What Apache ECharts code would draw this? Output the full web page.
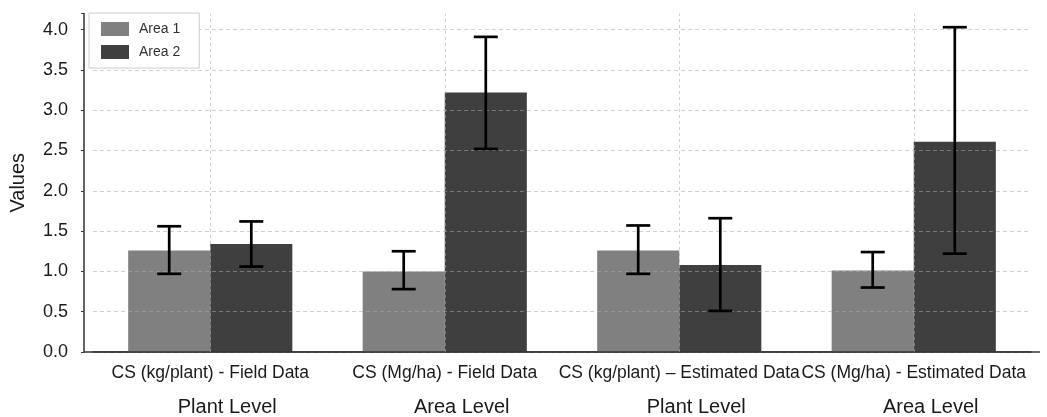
<!DOCTYPE html>
<html>
<head>
<meta charset="utf-8">
<script src="https://cdn.jsdelivr.net/npm/echarts@6/dist/echarts.min.js"></script>
<style>
html,body{margin:0;padding:0;background:#fff;}
#chart{width:1047px;height:417px;}
</style>
</head>
<body>
<div id="chart"></div>
<script>
const categories = ["CS (kg/plant) - Field Data", "CS (Mg/ha) - Field Data", "CS (kg/plant) \u2013 Estimated Data", "CS (Mg/ha) - Estimated Data"];
const levels = ["Plant Level", "Area Level", "Plant Level", "Area Level"];
const seriesNames = ["Area 1", "Area 2"];
const area1 = [1.26, 1.00, 1.26, 1.01];
const area2 = [1.34, 3.22, 1.08, 2.61];
const area1Low = [0.97, 0.78, 0.97, 0.80];
const area1High = [1.56, 1.25, 1.57, 1.24];
const area2Low = [1.06, 2.52, 0.51, 1.22];
const area2High = [1.62, 3.91, 1.66, 4.03];
const yTicks = [0, 0.5, 1.0, 1.5, 2.0, 2.5, 3.0, 3.5, 4.0];

const FONT = "Liberation Sans";
const colors = ["#808080", "#3f3f3f"];
const catGap = 0.30;
const gridColor = 'rgba(170,170,170,0.55)';

function errorSeries(idx, low, high) {
  return {
    type: 'custom',
    name: seriesNames[idx],
    z: 5,
    silent: true,
    data: low.map((l, i) => [i, l, high[i]]),
    renderItem: function (params, api) {
      const c = api.value(0);
      const lo = api.coord([c, api.value(1)]);
      const hi = api.coord([c, api.value(2)]);
      const band = api.size([1, 0])[0];
      const bw = band * (1 - catGap) / 2;
      const x = lo[0] + (idx === 0 ? -bw / 2 : bw / 2);
      const cap = 12;
      const style = { stroke: '#000', lineWidth: 2.7 };
      return {
        type: 'group',
        children: [
          { type: 'line', shape: { x1: x, y1: lo[1], x2: x, y2: hi[1] }, style: style },
          { type: 'line', shape: { x1: x - cap, y1: hi[1], x2: x + cap, y2: hi[1] }, style: style },
          { type: 'line', shape: { x1: x - cap, y1: lo[1], x2: x + cap, y2: lo[1] }, style: style }
        ]
      };
    }
  };
}

const chart = echarts.init(document.getElementById('chart'), null, { renderer: 'canvas' });
const option = {
  animation: false,
  backgroundColor: '#ffffff',
  textStyle: { fontFamily: FONT },
  grid: { left: 93, right: 16, top: 13.5, bottom: 65, containLabel: false },
  legend: {
    left: 89, top: 13,
    orient: 'vertical',
    data: seriesNames.map(n => ({ name: n, icon: 'rect' })),
    itemWidth: 28, itemHeight: 14, itemGap: 9,
    padding: [9, 19, 9, 12],
    borderColor: '#cccccc', borderWidth: 1,
    backgroundColor: '#ffffff',
    textStyle: { fontFamily: FONT, fontSize: 14, color: '#333', padding: [0, 0, 0, 5] },
    z: 10
  },
  xAxis: {
    type: 'category',
    data: categories,
    boundaryGap: true,
    axisLine: { show: true, lineStyle: { color: '#333', width: 1.5 } },
    axisTick: { show: false },
    splitLine: { show: false },
    axisLabel: {
      interval: 0,
      margin: 9,
      formatter: function (v, i) { return '{a|' + v + '}\n{b|' + levels[i] + '}'; },
      rich: {
        a: { fontFamily: FONT, fontSize: 17.5, lineHeight: 24, color: '#1a1a1a' },
        b: { fontFamily: FONT, fontSize: 20, lineHeight: 44, color: '#1a1a1a', padding: [0, 0, 0, 34] }
      }
    }
  },
  yAxis: {
    type: 'value',
    min: 0, max: 4.2, interval: 0.5,
    offset: 9,
    z: 3,
    name: 'Values',
    nameLocation: 'middle',
    nameGap: 56,
    nameTextStyle: { fontFamily: FONT, fontSize: 20, color: '#1a1a1a' },
    axisLine: { show: true, lineStyle: { color: '#333', width: 1.5 } },
    axisTick: { show: true, length: 3, lineStyle: { color: '#333' } },
    axisLabel: {
      fontFamily: FONT, fontSize: 18, color: '#1a1a1a', margin: 16,
      formatter: function (v) { return yTicks.indexOf(Math.round(v * 10) / 10) >= 0 && v <= 4.0001 ? v.toFixed(1) : ''; }
    },
    splitLine: { show: true, showMaxLine: false, lineStyle: { type: [4, 3], color: gridColor, width: 1 } }
  },
  series: [
    {
      name: seriesNames[0], type: 'bar', data: area1,
      barGap: '0%', barCategoryGap: (catGap * 100) + '%',
      itemStyle: { color: colors[0] }
    },
    {
      name: seriesNames[1], type: 'bar', data: area2,
      barGap: '0%', barCategoryGap: (catGap * 100) + '%',
      itemStyle: { color: colors[1] }
    },
    errorSeries(0, area1Low, area1High),
    errorSeries(1, area2Low, area2High),
    {
      name: 'vgrid', type: 'line', data: categories.map(() => null),
      silent: true, symbol: 'none', z: 3,
      markLine: {
        silent: true, symbol: 'none', animation: false,
        label: { show: false },
        lineStyle: { type: [3, 3], color: gridColor, width: 1 },
        data: categories.map(c => ({ xAxis: c }))
      }
    }
  ]
};
chart.setOption(option);

// extend the x axis baseline across the full frame width (as in the reference)
const p0 = chart.convertToPixel({ gridIndex: 0 }, [0, 0]);
chart.setOption({
  graphic: [{
    type: 'line', silent: true, z: 4,
    shape: { x1: 84, y1: p0[1], x2: 1040, y2: p0[1] },
    style: { stroke: '#333', lineWidth: 1.5 }
  }]
});
</script>
</body>
</html>
